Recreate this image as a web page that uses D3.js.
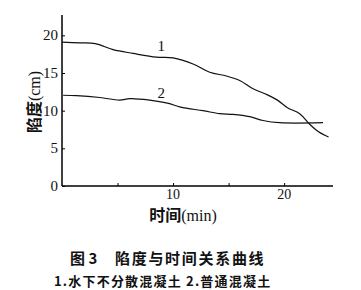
<!DOCTYPE html>
<html>
<head>
<meta charset="utf-8">
<script src="https://cdn.jsdelivr.net/npm/d3@7"></script>
<style>
  body { margin: 0; background: #fff; }
  text { fill: #111; }
</style>
</head>
<body>
<script>
'use strict';

// curve 1: underwater non-dispersible concrete
const time1 = [0, 1.6, 3, 4.6, 6.4, 8.5, 10, 11.8, 13.3, 14.8, 16, 17.2, 18.5, 19.4, 20.3, 21.4, 22.3, 23.1, 24.0];
const slump1 = [19.1, 19.0, 18.9, 18.1, 17.6, 17.1, 17.0, 16.2, 15.1, 14.6, 14.0, 12.9, 12.1, 11.4, 10.4, 9.6, 8.2, 7.2, 6.5];

// curve 2: ordinary concrete
const time2 = [0.1, 1.3, 3.4, 5.2, 6.1, 7.9, 9.5, 10.6, 11.3, 12.7, 14.2, 15.4, 16.9, 18.1, 19.6, 23.5];
const slump2 = [12.05, 12.0, 11.75, 11.4, 11.6, 11.4, 11.0, 10.5, 10.3, 10.0, 9.6, 9.5, 9.2, 8.7, 8.4, 8.4];

const yTicks = [0, 5, 10, 15, 20];
const xTicks = [5, 10, 15, 20];
const xLabelled = [10, 20];

const svg = d3.select('body').append('svg')
  .attr('width', 361)
  .attr('height', 290);

const x = d3.scaleLinear().domain([0, 24.4]).range([62, 333]);
const y = d3.scaleLinear().domain([0, 22.7]).range([186, 15]);

const serif = 'Liberation Serif';
const cjk = 'Noto Sans CJK SC';

// y axis
const yAxis = d3.axisRight(y).tickValues(yTicks).tickSize(3).tickFormat('');
svg.append('g')
  .attr('transform', 'translate(' + x(0) + ',0)')
  .call(yAxis)
  .call(g => g.select('.domain').attr('stroke-width', 1.5).attr('d', 'M0,' + y(22.7) + 'V' + y(0)));

svg.selectAll('.ylab')
  .data(yTicks).enter()
  .append('text')
    .attr('x', 58)
    .attr('y', d => y(d) + 5)
    .attr('text-anchor', 'end')
    .style('font-family', serif)
    .style('font-size', '15px')
    .text(d => d);

// x axis
const xAxis = d3.axisTop(x).tickValues(xTicks).tickSize(3).tickFormat('');
svg.append('g')
  .attr('transform', 'translate(0,' + y(0) + ')')
  .call(xAxis)
  .call(g => g.select('.domain').attr('stroke-width', 1.5).attr('d', 'M' + x(0) + ',0H' + x(24.4)));

svg.selectAll('.xlab')
  .data(xLabelled).enter()
  .append('text')
    .attr('x', d => x(d))
    .attr('y', 199)
    .attr('text-anchor', 'middle')
    .style('font-family', serif)
    .style('font-size', '14px')
    .text(d => d);

// curves
const line = d3.line()
  .x(d => x(d[0]))
  .y(d => y(d[1]))
  .curve(d3.curveCatmullRom);

svg.append('path')
  .datum(d3.zip(time1, slump1))
  .attr('fill', 'none')
  .attr('stroke', '#111')
  .attr('stroke-width', 1.2)
  .attr('d', line);

svg.append('path')
  .datum(d3.zip(time2, slump2))
  .attr('fill', 'none')
  .attr('stroke', '#111')
  .attr('stroke-width', 1.2)
  .attr('d', line);

// curve labels
svg.append('text')
  .attr('x', x(8.6))
  .attr('y', y(17.9))
  .style('font-family', serif)
  .style('font-size', '15px')
  .text('1');

svg.append('text')
  .attr('x', x(8.6))
  .attr('y', y(11.7))
  .style('font-family', serif)
  .style('font-size', '15px')
  .text('2');

// axis titles
const yTitle = svg.append('text')
  .attr('transform', 'translate(40, 102)rotate(-90)')
  .attr('text-anchor', 'middle')
  .style('font-size', '16px');
yTitle.append('tspan').style('font-family', cjk).style('font-weight', 'bold').text('陷度');
yTitle.append('tspan').style('font-family', serif).text('(cm)');

const xTitle = svg.append('text')
  .attr('x', 183)
  .attr('y', 221)
  .attr('text-anchor', 'middle')
  .style('font-size', '16px');
xTitle.append('tspan').style('font-family', cjk).style('font-weight', 'bold').text('时间');
xTitle.append('tspan').style('font-family', serif).text('(min)');

// caption
svg.append('text')
  .attr('x', 70)
  .attr('y', 264)
  .style('font-family', cjk)
  .style('font-weight', 'bold')
  .style('font-size', '15px')
  .text('图 3');

svg.append('text')
  .attr('x', 115)
  .attr('y', 264)
  .style('font-family', cjk)
  .style('font-weight', 'bold')
  .style('font-size', '15px')
  .style('letter-spacing', '1.7px')
  .text('陷度与时间关系曲线');

svg.append('text')
  .attr('x', 54)
  .attr('y', 286)
  .style('font-family', cjk)
  .style('font-weight', 'bold')
  .style('font-size', '13px')
  .style('letter-spacing', '1.2px')
  .text('1.水下不分散混凝土 2.普通混凝土');
</script>
</body>
</html>
